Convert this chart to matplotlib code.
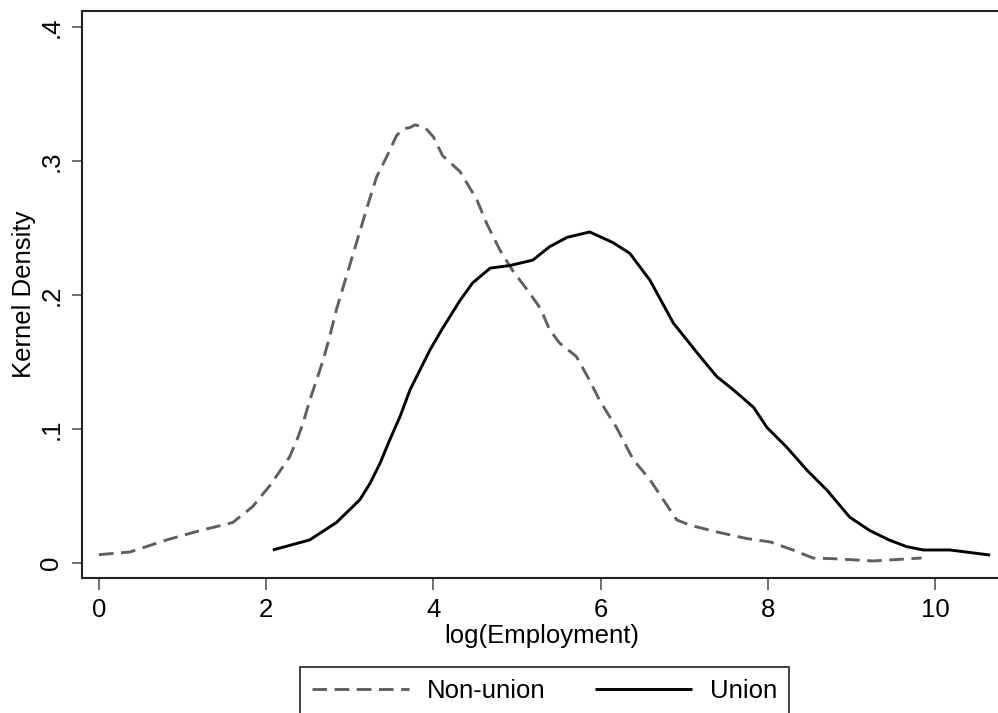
import matplotlib
matplotlib.use("Agg")
import matplotlib.pyplot as plt

plt.rcParams['font.family'] = ['Liberation Sans', 'DejaVu Sans']

nonunion_x = [0.0, 0.37, 0.81, 1.21, 1.6, 1.84, 1.93, 2.05, 2.17, 2.28, 2.37, 2.44, 2.52, 2.6,
              2.68, 2.76, 2.84, 2.97, 3.09, 3.21, 3.32, 3.44, 3.56, 3.64, 3.72, 3.78, 3.9, 4.0,
              4.11, 4.32, 4.52, 4.64, 4.8, 4.95, 5.12, 5.28, 5.39, 5.51, 5.71, 5.87, 5.99, 6.19,
              6.39, 6.59, 6.75, 6.91, 7.07, 7.39, 7.75, 8.03, 8.3, 8.54, 8.78, 9.26, 9.84]
nonunion_y = [0.006, 0.008, 0.017, 0.024, 0.030, 0.042, 0.049, 0.058, 0.069, 0.079, 0.092, 0.104,
              0.121, 0.136, 0.151, 0.169, 0.189, 0.216, 0.241, 0.266, 0.288, 0.303, 0.319, 0.324,
              0.325, 0.327, 0.325, 0.318, 0.304, 0.292, 0.271, 0.253, 0.233, 0.218, 0.204, 0.190,
              0.174, 0.164, 0.154, 0.136, 0.121, 0.101, 0.077, 0.062, 0.047, 0.032, 0.028, 0.023,
              0.018, 0.0155, 0.0095, 0.0035, 0.003, 0.0013, 0.0035]

union_x = [2.08, 2.52, 2.84, 3.12, 3.24, 3.36, 3.48, 3.6, 3.72, 3.84, 3.96, 4.1, 4.32, 4.47, 4.68,
           4.92, 5.19, 5.39, 5.6, 5.87, 6.15, 6.35, 6.59, 6.87, 7.19, 7.39, 7.59, 7.83, 7.99, 8.23,
           8.47, 8.71, 8.98, 9.22, 9.45, 9.66, 9.86, 10.18, 10.66]
union_y = [0.0095, 0.017, 0.030, 0.047, 0.059, 0.074, 0.092, 0.109, 0.129, 0.144, 0.159, 0.174,
           0.196, 0.209, 0.220, 0.222, 0.226, 0.236, 0.243, 0.247, 0.239, 0.231, 0.211, 0.179,
           0.154, 0.139, 0.129, 0.116, 0.101, 0.086, 0.069, 0.054, 0.034, 0.024, 0.017, 0.012,
           0.0095, 0.0095, 0.0057]

x_ticks = [0, 2, 4, 6, 8, 10]
x_ticklabels = ['0', '2', '4', '6', '8', '10']
y_ticks = [0, 0.1, 0.2, 0.3, 0.4]
y_ticklabels = ['0', '.1', '.2', '.3', '.4']

W, H = 998, 713
fig = plt.figure(figsize=(W / 100, H / 100), dpi=100)
ax = fig.add_axes([82 / W, 1 - 578 / H, (1002 - 82) / W, (578 - 11) / H])

ax.plot(nonunion_x, nonunion_y, color='#606060', lw=2.1, dashes=(5, 2.6),
        label='Non-union', solid_joinstyle='round')
ax.plot(union_x, union_y, color='black', lw=2.1, label='Union',
        solid_joinstyle='round', solid_capstyle='butt')

ax.set_xlim(-0.203, (1002 - 99) / 83.6)
ax.set_ylim(-(578 - 562.7) / 1339, (562.7 - 11) / 1339)

ax.set_xticks(x_ticks)
ax.set_xticklabels(x_ticklabels)
ax.set_yticks(y_ticks)
ax.set_yticklabels(y_ticklabels, rotation=90, va='center')
ax.tick_params(axis='both', labelsize=18.5, color='#555555', width=1.2)
ax.tick_params(axis='x', length=8.5, pad=6)
ax.tick_params(axis='y', length=7.5, pad=6)

for s in ['left', 'bottom', 'top']:
    ax.spines[s].set_linewidth(1.5)
    ax.spines[s].set_color('#222222')
ax.spines['right'].set_visible(False)

ax.set_xlabel('log(Employment)', fontsize=18.5, labelpad=1)
ax.set_ylabel('Kernel Density', fontsize=18.5, labelpad=2)

leg = fig.legend(loc='upper left', bbox_to_anchor=(300 / W, 1 - 667 / H), ncol=2,
                 fontsize=18.5, frameon=True, fancybox=False, edgecolor='#222222',
                 framealpha=1.0,
                 handlelength=3.8, handletextpad=0.7, columnspacing=1.9,
                 borderpad=0.45, borderaxespad=0)
leg.get_frame().set_linewidth(1.2)

fig.savefig('out.png', dpi=100, facecolor='white')
